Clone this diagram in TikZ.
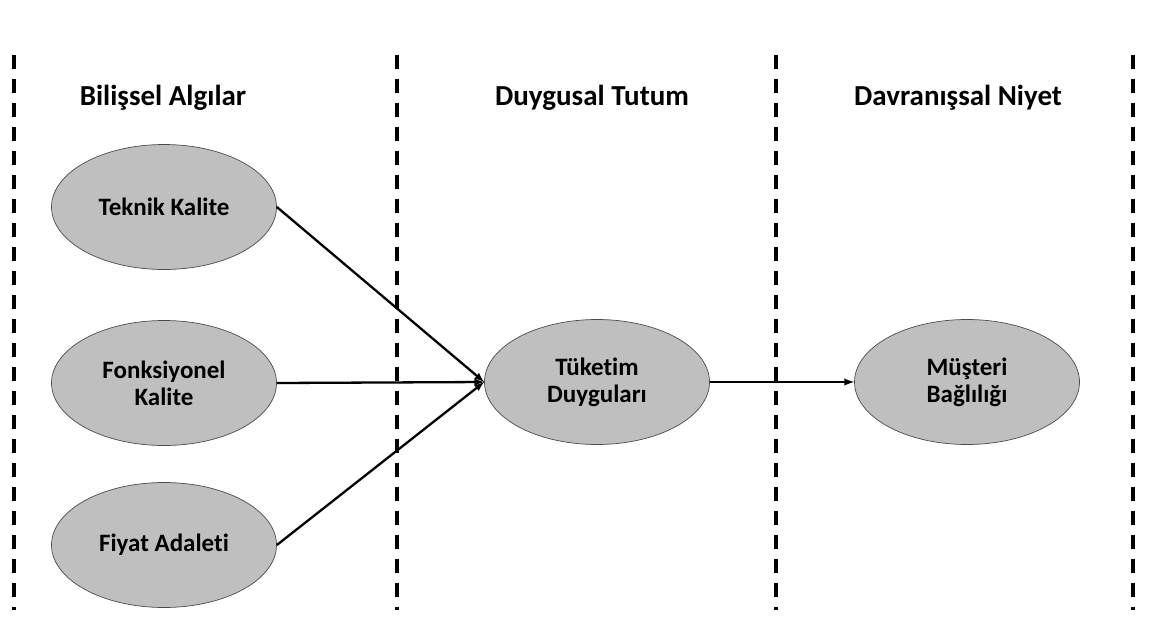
\documentclass[tikz,border=0pt]{standalone}
\usepackage{fontspec}
\setmainfont[Ligatures=NoCommon]{Carlito}
\usepackage{tikz}
\usetikzlibrary{shapes.geometric, arrows}

\begin{document}
\begin{tikzpicture}[
            x=1pt, y=-1pt,
            oval/.style={ellipse, draw=black!70, line width=0.7pt, fill=black!25, minimum width=225pt, minimum height=125pt, align=center, font=\bfseries\fontsize{25}{27}\selectfont}, % Gray ellipse for each concept
            baslik/.style={font=\bfseries\fontsize{29}{34}\selectfont}, % Column heading
            ayrac/.style={line width=3.5pt, dash pattern=on 14pt off 10pt}, % Dashed separator
            ok/.style={-latex, line width=2.3pt} % Arrow between concepts
            ]
        
                % Picture frame
                \useasboundingbox (0,0) rectangle (1159,619);
        
                % Dashed column separators
                \foreach \x/\n in {14/s1, 397/s2, 776/s3, 1133/s4} {
                    \coordinate (\n u) at (\x,55);
                    \coordinate (\n d) at (\x,610);
                    \draw[ayrac] (\n u) -- (\n d);
                }
        
                % Column headings
                \node[baslik] (b1) at (163,98) {Bilişsel Algılar};
                \node[baslik] (b2) at (592,98) {Duygusal Tutum};
                \node[baslik] (b3) at (958,98) {Davranışsal Niyet};
        
                % Concepts
                \node[oval] (teknik) at (164,207) {Teknik Kalite};
                \node[oval] (fonk) at (164,383) {Fonksiyonel\\Kalite};
                \node[oval] (fiyat) at (164,545) {Fiyat Adaleti};
                \node[oval] (tuketim) at (597,382) {Tüketim\\Duyguları};
                \node[oval] (musteri) at (967,382) {Müşteri\\Bağlılığı};
        
                % Paths
                \draw[ok] (teknik.east) -- (tuketim.west);
                \draw[ok] (fonk.east) -- (tuketim.west);
                \draw[ok] (fiyat.east) -- (tuketim.west);
                \draw[ok] (tuketim.east) -- (musteri.west);
        
            \end{tikzpicture}
\end{document}
